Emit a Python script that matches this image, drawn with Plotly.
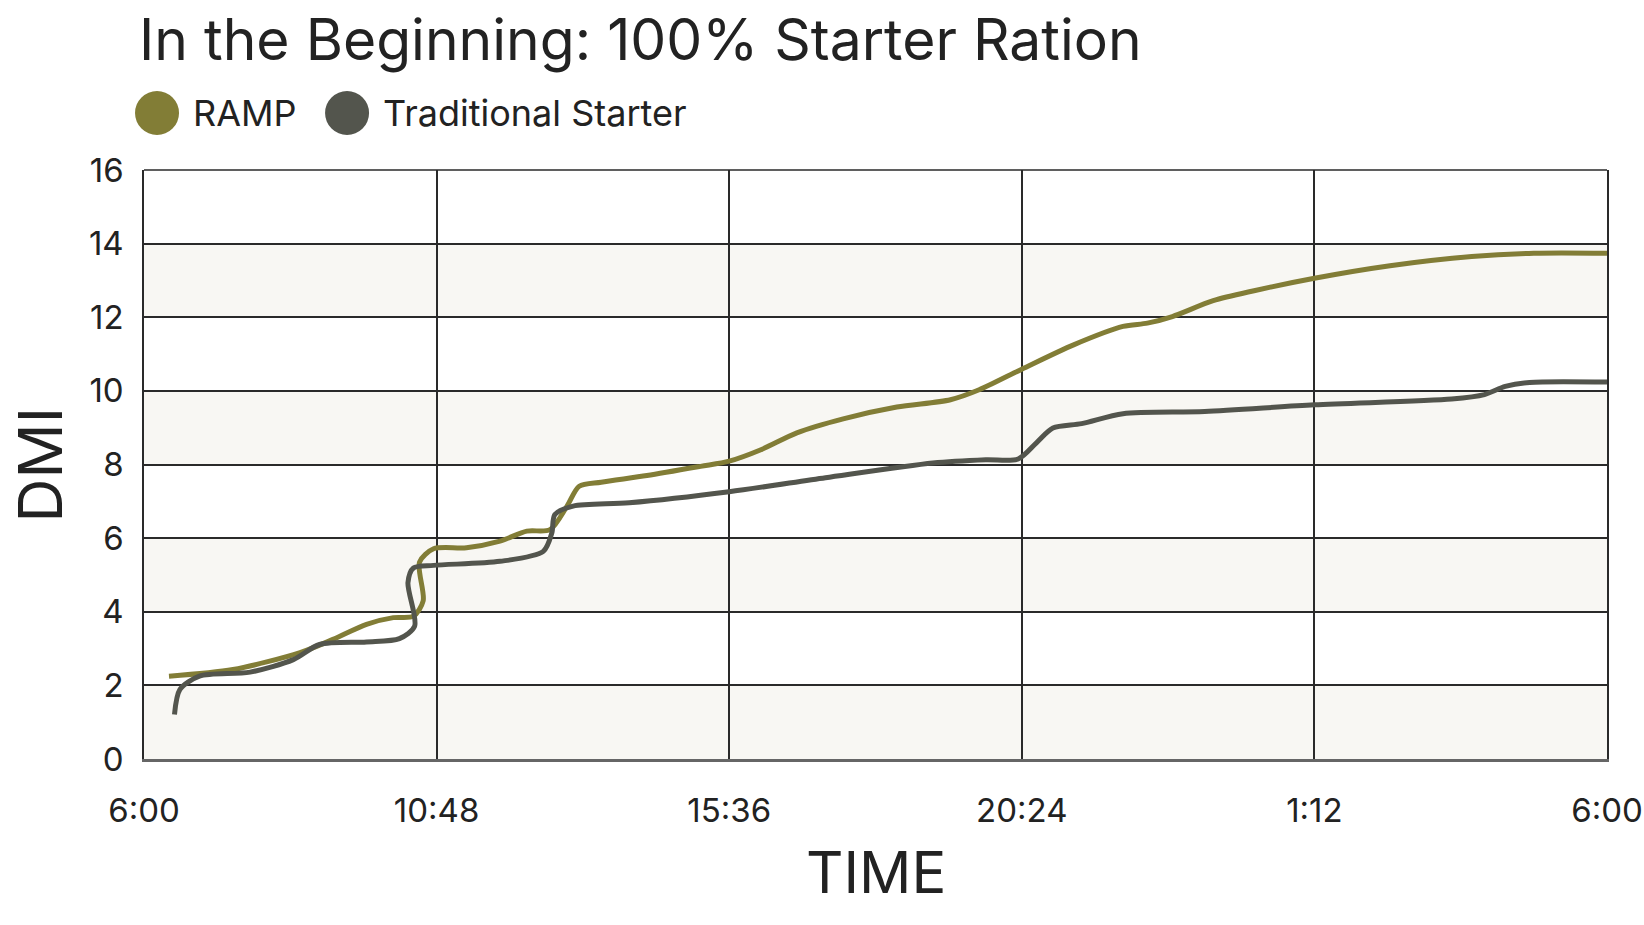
import plotly.graph_objects as go

# ---- data (hours after 6:00, DMI) ----
ramp_hours = [0.41, 1.46, 2.56, 3.1, 3.65, 4.09, 4.42, 4.58, 4.52, 4.75, 5.29, 5.84, 6.28, 6.66,
              6.94, 7.14, 7.5, 8.25, 9.13, 9.6, 10.12, 10.71, 11.47, 12.35, 13.23, 13.7, 14.4,
              15.25, 16.06, 16.46, 16.87, 17.54, 18.21, 19.2, 20.44, 21.78, 22.8, 24.0]
ramp_dmi = [2.25, 2.43, 2.89, 3.25, 3.66, 3.84, 3.88, 4.3, 5.35, 5.71, 5.74, 5.92, 6.19, 6.23,
            6.87, 7.41, 7.52, 7.7, 7.95, 8.09, 8.4, 8.86, 9.24, 9.56, 9.76, 10.03, 10.59,
            11.25, 11.75, 11.84, 12.02, 12.45, 12.72, 13.06, 13.4, 13.65, 13.74, 13.74]

trad_hours = [0.5, 0.59, 0.91, 1.74, 2.45, 2.88, 3.65, 4.19, 4.44, 4.33, 4.42, 4.75, 5.84, 6.55,
              6.69, 6.74, 7.04, 7.96, 9.6, 11.18, 12.94, 13.81, 14.34, 14.64, 14.91, 15.38,
              16.06, 17.4, 19.2, 21.45, 21.99, 22.33, 22.73, 24.0]
trad_dmi = [1.21, 1.89, 2.25, 2.36, 2.7, 3.11, 3.18, 3.27, 3.61, 4.79, 5.19, 5.26, 5.37, 5.64,
            6.14, 6.64, 6.87, 6.96, 7.26, 7.64, 8.04, 8.13, 8.15, 8.59, 8.99, 9.11,
            9.38, 9.44, 9.62, 9.78, 9.9, 10.12, 10.23, 10.24]

x_tickvals = [0, 4.8, 9.6, 14.4, 19.2, 24]
x_ticktext = ["6:00", "10:48", "15:36", "20:24", "1:12", "6:00"]
y_tickvals = [0, 2, 4, 6, 8, 10, 12, 14, 16]

series_names = ["RAMP", "Traditional Starter"]
series_colors = ["#827d36", "#53554d"]

FONT = "Inter"
TXT = "#222222"

fig = go.Figure()
for hrs, vals, name, col in [(ramp_hours, ramp_dmi, series_names[0], series_colors[0]),
                             (trad_hours, trad_dmi, series_names[1], series_colors[1])]:
    fig.add_trace(go.Scatter(x=hrs, y=vals, name=name, mode="lines",
                             line=dict(color=col, width=5, shape="spline", smoothing=0.8),
                             showlegend=False))

shapes = []
# alternating bands
for i in range(0, len(y_tickvals) - 1, 2):
    shapes.append(dict(type="rect", xref="paper", yref="y", x0=0, x1=1,
                       y0=y_tickvals[i], y1=y_tickvals[i + 1],
                       fillcolor="#f8f7f3", line=dict(width=0), layer="below"))
# top border
shapes.append(dict(type="line", xref="paper", yref="paper", x0=0, x1=1, y0=1, y1=1,
                   line=dict(color="#2a2a2a", width=1.5)))

# legend circles
legend_x = [0.0089, 0.1388]
for lx, col in zip(legend_x, series_colors):
    shapes.append(dict(type="circle", xref="paper", yref="paper",
                       xsizemode="pixel", ysizemode="pixel",
                       xanchor=lx, yanchor=1.0968, x0=-22, x1=22, y0=-22, y1=22,
                       fillcolor=col, line=dict(width=0)))

annotations = [
    dict(text="In the Beginning: 100% Starter Ration", xref="paper", yref="paper",
         x=-0.0048, y=1.2224, xanchor="left", yanchor="middle", showarrow=False,
         font=dict(family=FONT, size=57, color=TXT)),
    dict(text=series_names[0], xref="paper", yref="paper", x=0.0318, y=1.0968,
         xanchor="left", yanchor="middle", showarrow=False,
         font=dict(family=FONT, size=36, color=TXT)),
    dict(text=series_names[1], xref="paper", yref="paper", x=0.1620, y=1.0968,
         xanchor="left", yanchor="middle", showarrow=False,
         font=dict(family=FONT, size=36, color=TXT)),
    dict(text="DMI", xref="paper", yref="paper", x=-0.0711, y=0.5, textangle=-90,
         xanchor="center", yanchor="middle", showarrow=False,
         font=dict(family=FONT, size=61, color=TXT)),
    dict(text="TIME", xref="paper", yref="paper", x=0.5, y=-0.192,
         xanchor="center", yanchor="middle", showarrow=False,
         font=dict(family=FONT, size=58, color=TXT)),
]

fig.update_layout(
    width=1644, height=925,
    margin=dict(l=144, r=37, t=170, b=166),
    paper_bgcolor="white", plot_bgcolor="white",
    shapes=shapes, annotations=annotations,
    font=dict(family=FONT, color=TXT),
)
fig.update_xaxes(range=[0, 24], tickvals=x_tickvals, ticktext=x_ticktext,
                 showgrid=True, gridcolor="#2a2a2a", gridwidth=1.5,
                 showline=True, linecolor="#666666", linewidth=3, mirror=False,
                 ticks="", ticklabelstandoff=20, zeroline=False, automargin=False,
                 tickfont=dict(family=FONT, size=33, color=TXT))
fig.update_yaxes(range=[0, 16], tickvals=y_tickvals,
                 showgrid=True, gridcolor="#2a2a2a", gridwidth=1.5,
                 showline=True, linecolor="#2a2a2a", linewidth=1.5, mirror=True,
                 ticks="", ticklabelstandoff=12, zeroline=False, automargin=False,
                 tickfont=dict(family=FONT, size=33, color=TXT))

fig.write_html("out.html", config={"displayModeBar": False},
               post_script="document.body.style.margin='0';document.body.style.overflow='hidden';")
